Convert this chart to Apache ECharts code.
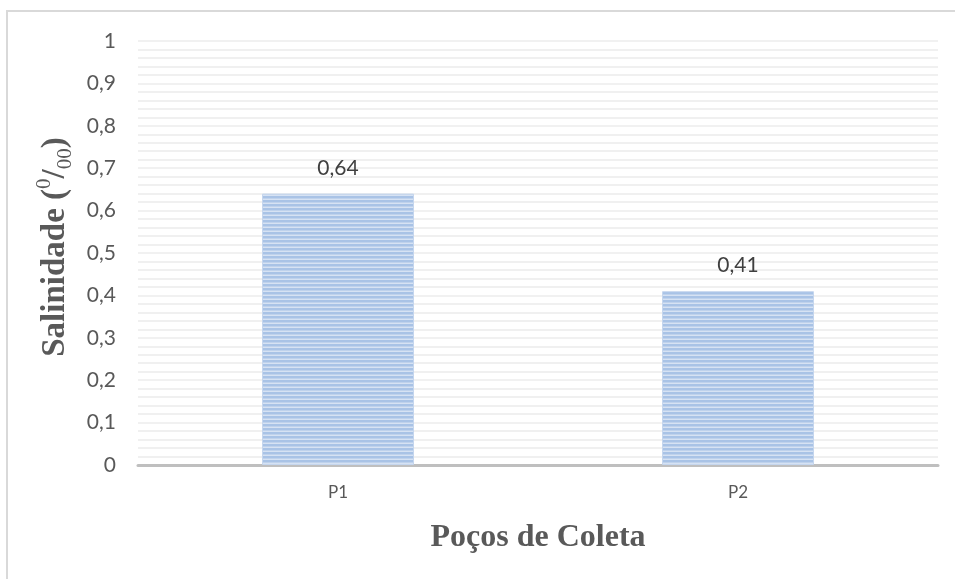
<!DOCTYPE html>
<html>
<head>
<meta charset="utf-8">
<script src="https://cdn.jsdelivr.net/npm/echarts@6/dist/echarts.min.js"></script>
<style>
  html, body { margin: 0; padding: 0; background: #fff; }
  #chart { width: 955px; height: 579px; }
</style>
</head>
<body>
<div id="chart"></div>
<script>
// Salinity per sampling well
const categories = ['P1', 'P2'];
const salinity = [0.64, 0.41];
const yTicks = { min: 0, max: 1, step: 0.1 };

const comma = v => String(+(+v).toFixed(2)).replace('.', ',');

// Horizontal stripe fill for the bars
function stripePattern() {
  const c = document.createElement('canvas');
  c.width = 4; c.height = 4;
  const g = c.getContext('2d');
  g.fillStyle = '#d6e2f3'; g.fillRect(0, 0, 4, 4);
  g.fillStyle = '#a9c3e6'; g.fillRect(0, 0, 4, 2);
  g.fillStyle = '#bfd2ec'; g.fillRect(0, 2, 4, 1);
  return c;
}

const chart = echarts.init(document.getElementById('chart'), null, { renderer: 'canvas' });
chart.setOption({
  backgroundColor: '#ffffff',
  animation: false,
  graphic: [{
    type: 'rect', silent: true, z: -1,
    shape: { x: 7, y: 11, width: 1200, height: 1200 },
    style: { fill: 'none', stroke: '#d9d9d9', lineWidth: 2 }
  }],
  grid: { left: 138, right: 17, top: 41, bottom: 114, containLabel: false, outerBoundsMode: 'none' },
  xAxis: {
    type: 'category',
    data: categories,
    name: 'Poços de Coleta',
    nameLocation: 'middle',
    nameGap: 57,
    nameTextStyle: { fontFamily: 'Liberation Serif', fontWeight: 'bold', fontSize: 32, color: '#595959' },
    axisLine: { show: true, lineStyle: { color: '#bfbfbf', width: 3 } },
    axisTick: { show: false },
    axisLabel: { fontFamily: 'Lato', fontSize: 17, color: '#595959', margin: 19 }
  },
  yAxis: {
    type: 'value',
    min: yTicks.min, max: yTicks.max, interval: yTicks.step,
    name: '{b|Salinidade (}{sup|0}{b|/}{sub|00}{b|)}',
    nameLocation: 'middle',
    nameRotate: 90,
    nameGap: 57,
    nameTextStyle: {
      color: '#595959',
      padding: [0, 0, 0, 12],
      rich: {
        b: { fontFamily: 'Liberation Serif', fontWeight: 'bold', fontSize: 33, color: '#595959', lineHeight: 42, verticalAlign: 'middle' },
        sup: { fontFamily: 'Liberation Serif', fontSize: 21, color: '#595959', lineHeight: 42, verticalAlign: 'top' },
        sub: { fontFamily: 'Liberation Serif', fontSize: 21, color: '#595959', lineHeight: 42, verticalAlign: 'bottom' }
      }
    },
    axisLine: { show: false },
    axisTick: { show: false },
    axisLabel: { fontFamily: 'Lato', fontSize: 21, color: '#595959', margin: 22, formatter: comma },
    splitLine: { show: true, lineStyle: { color: '#ececec', width: 1.5 } },
    minorTick: { show: false, splitNumber: 5 },
    minorSplitLine: { show: true, lineStyle: { color: '#ececec', width: 1.5 } }
  },
  series: [{
    type: 'bar',
    data: salinity,
    barWidth: '38%',
    itemStyle: { color: { image: stripePattern(), repeat: 'repeat' }, borderColor: '#c5d6ee', borderWidth: 1 },
    label: {
      show: true, position: 'top', distance: 15,
      fontFamily: 'Lato', fontSize: 21, color: '#404040',
      formatter: p => comma(p.value)
    }
  }]
});
</script>
</body>
</html>
